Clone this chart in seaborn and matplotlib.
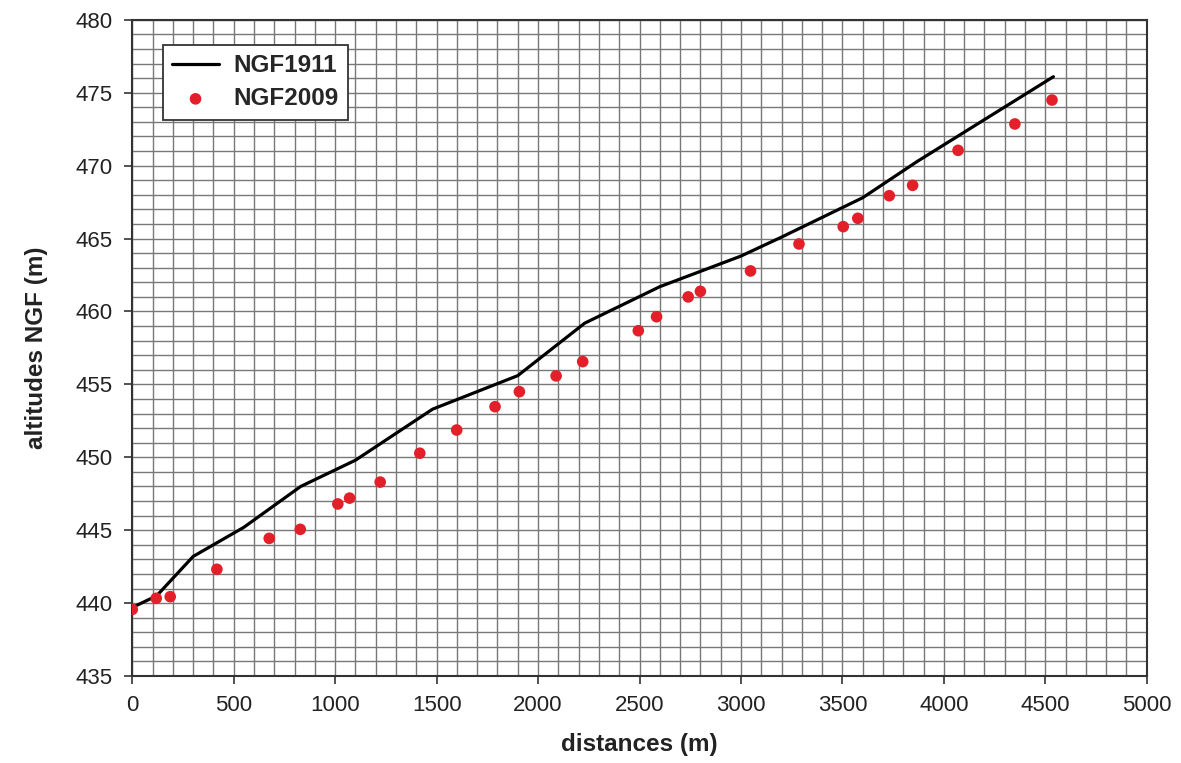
import numpy as np
import pandas as pd
import matplotlib
matplotlib.use("Agg")
import matplotlib.pyplot as plt
from matplotlib.ticker import MultipleLocator
import seaborn as sns

# NGF1911 profile (line)
dist_1911 = [0, 120, 300, 550, 830, 1100, 1480, 1900, 2230, 2600, 3000, 3200, 3600, 3870, 4540]
alt_1911 = [439.7, 440.5, 443.2, 445.2, 448.0, 449.8, 453.3, 455.6, 459.2, 461.7, 463.8, 465.1, 467.8, 470.3, 476.1]

# NGF2009 levelling points (dots)
dist_2009 = [0, 118, 187, 417, 675, 828, 1013, 1071, 1222, 1417, 1599, 1788, 1908, 2089, 2220,
             2494, 2584, 2740, 2800, 3047, 3286, 3504, 3576, 3731, 3846, 4070, 4350, 4533]
alt_2009 = [439.57, 440.33, 440.44, 442.32, 444.44, 445.06, 446.8, 447.2, 448.3, 450.28, 451.87,
            453.47, 454.5, 455.58, 456.56, 458.68, 459.64, 461.0, 461.38, 462.78, 464.63, 465.82,
            466.39, 467.94, 468.65, 471.05, 472.86, 474.5]

x_ticks = [0, 500, 1000, 1500, 2000, 2500, 3000, 3500, 4000, 4500, 5000]
y_ticks = [435, 440, 445, 450, 455, 460, 465, 470, 475, 480]

df_line = pd.DataFrame({"d": dist_1911, "z": alt_1911, "s": "NGF1911"})
df_pts = pd.DataFrame({"d": dist_2009, "z": alt_2009, "s": "NGF2009"})

sns.set_theme(style="white")
plt.rcParams["font.family"] = ["Liberation Sans", "DejaVu Sans"]

fig = plt.figure(figsize=(11.81, 7.63), dpi=100)
ax = fig.add_axes([0.112, 0.114, 0.859, 0.86])

sns.lineplot(data=df_line, x="d", y="z", sort=False, estimator=None, color="black",
             linewidth=2.3, ax=ax, label="NGF1911", zorder=3)
sns.scatterplot(data=df_pts, x="d", y="z", color="#e3202a", s=70, edgecolor="none",
                ax=ax, label="NGF2009", zorder=4)

ax.set_xlim(0, 5000)
ax.set_ylim(435, 480)
ax.set_xticks(x_ticks)
ax.set_yticks(y_ticks)
ax.set_xticklabels([str(v) for v in x_ticks])
ax.set_yticklabels([str(v) for v in y_ticks])
ax.xaxis.set_minor_locator(MultipleLocator(100))
ax.yaxis.set_minor_locator(MultipleLocator(1))
ax.grid(which="both", color="#787878", linewidth=1.0)
ax.set_axisbelow(True)
ax.tick_params(which="major", direction="out", length=6, width=1.2, color="#333333",
               labelsize=16, labelcolor="#222222", bottom=True, left=True, pad=8)
ax.tick_params(which="minor", length=0)
for sp in ax.spines.values():
    sp.set_color("#333333")
    sp.set_linewidth(1.5)

ax.set_xlabel("distances (m)", fontsize=17.5, fontweight="bold", color="#222222", labelpad=12)
ax.set_ylabel("altitudes NGF (m)", fontsize=17.5, fontweight="bold", color="#222222", labelpad=20)

leg = ax.legend(loc="upper left", bbox_to_anchor=(0.03, 0.962), borderaxespad=0,
                fancybox=False, framealpha=1, edgecolor="#333333",
                prop={"size": 17.5, "weight": "bold"}, handlelength=1.9, borderpad=0.4,
                labelspacing=0.4, handletextpad=0.6)
leg.get_frame().set_linewidth(1.3)

fig.savefig("out.png", dpi=100, facecolor="white")
